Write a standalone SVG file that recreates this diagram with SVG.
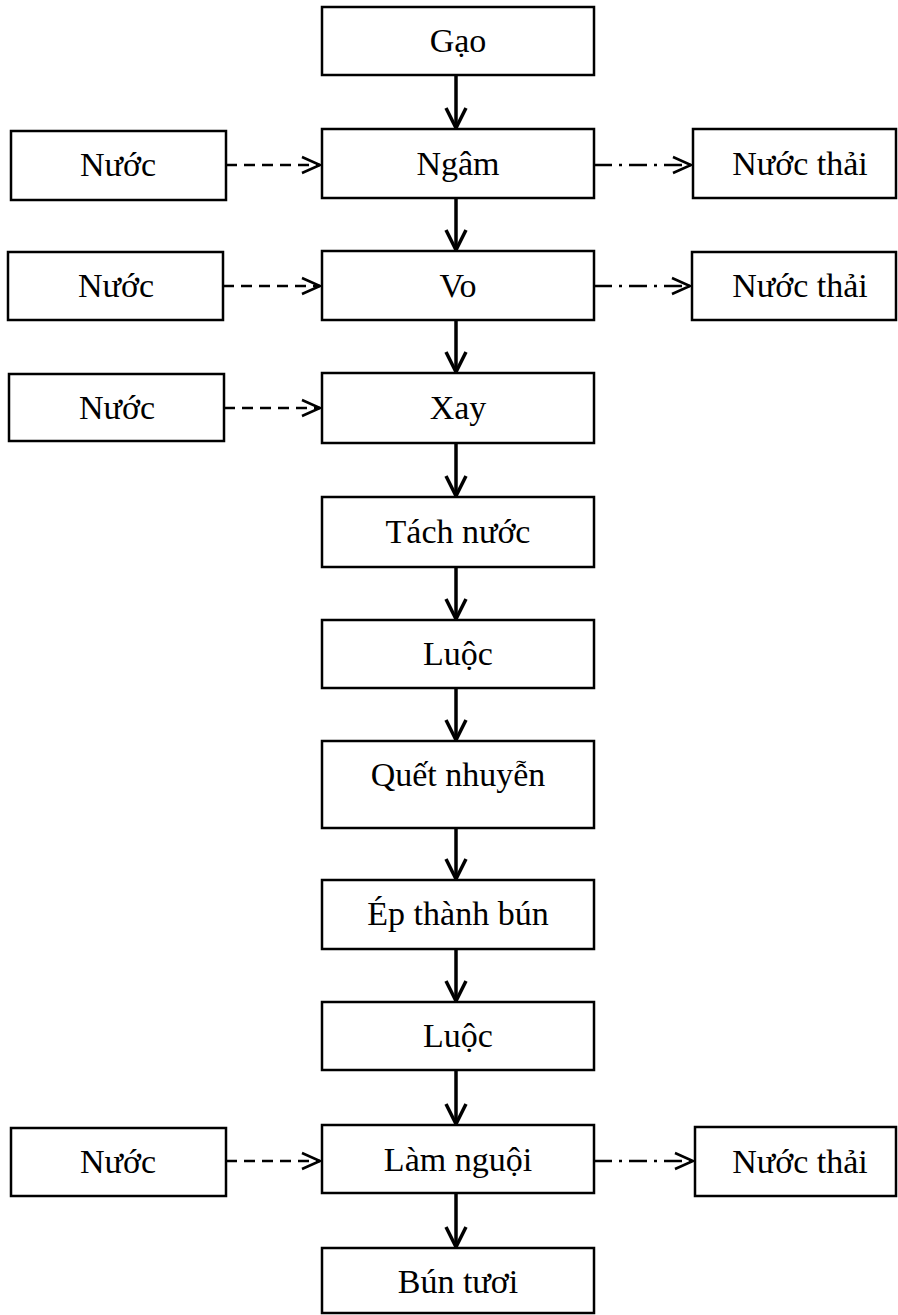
<svg xmlns="http://www.w3.org/2000/svg" width="898" height="1315" viewBox="0 0 898 1315">
<style>
.box{fill:#fff;stroke:#000;stroke-width:2.5}
.t{font-family:"Liberation Serif","Times New Roman",serif;font-size:34px;fill:#000;text-anchor:middle}
.main{stroke:#000;stroke-width:3.5;fill:none}
.dash{stroke:#000;stroke-width:2.5;fill:none;stroke-dasharray:11 7}
.dd{stroke:#000;stroke-width:2.5;fill:none;stroke-dasharray:18 7 3 7}
</style>
<defs>
<marker id="ah" markerUnits="userSpaceOnUse" markerWidth="24" markerHeight="24" viewBox="-22 -12 24 24" refX="0" refY="0" orient="auto">
<path d="M-20,-10 L0,0 L-20,10" fill="none" stroke="#000" stroke-width="3.5"/>
</marker>
<marker id="ah2" markerUnits="userSpaceOnUse" markerWidth="24" markerHeight="24" viewBox="-22 -12 24 24" refX="0" refY="0" orient="auto">
<path d="M-18,-8 L0,0 L-18,8" fill="none" stroke="#000" stroke-width="2.5"/>
</marker>
</defs>
<g id="connectors">
<line class="main" x1="456" y1="75" x2="456" y2="128" marker-end="url(#ah)"/>
<line class="main" x1="456" y1="198" x2="456" y2="250" marker-end="url(#ah)"/>
<line class="main" x1="456" y1="320" x2="456" y2="372" marker-end="url(#ah)"/>
<line class="main" x1="456" y1="443" x2="456" y2="496" marker-end="url(#ah)"/>
<line class="main" x1="456" y1="567" x2="456" y2="619" marker-end="url(#ah)"/>
<line class="main" x1="456" y1="688" x2="456" y2="740" marker-end="url(#ah)"/>
<line class="main" x1="456" y1="828" x2="456" y2="879" marker-end="url(#ah)"/>
<line class="main" x1="456" y1="949" x2="456" y2="1001" marker-end="url(#ah)"/>
<line class="main" x1="456" y1="1070" x2="456" y2="1124" marker-end="url(#ah)"/>
<line class="main" x1="456" y1="1193" x2="456" y2="1247" marker-end="url(#ah)"/>
<line class="dash" x1="226" y1="165" x2="320" y2="165" marker-end="url(#ah2)"/>
<line class="dash" x1="223" y1="286" x2="320" y2="286" marker-end="url(#ah2)"/>
<line class="dash" x1="224" y1="408" x2="320" y2="408" marker-end="url(#ah2)"/>
<line class="dash" x1="226" y1="1161" x2="320" y2="1161" marker-end="url(#ah2)"/>
<line class="dd" x1="594" y1="165" x2="691" y2="165" marker-end="url(#ah2)"/>
<line class="dd" x1="594" y1="286" x2="690" y2="286" marker-end="url(#ah2)"/>
<line class="dd" x1="594" y1="1161" x2="693" y2="1161" marker-end="url(#ah2)"/>
</g>
<g id="gao"><rect class="box" x="322" y="7" width="272" height="68"/><text class="t" x="458" y="52">Gạo</text></g>
<g id="ngam"><rect class="box" x="322" y="129" width="272" height="69"/><text class="t" x="458" y="175">Ngâm</text></g>
<g id="nuoc1"><rect class="box" x="11" y="131" width="215" height="69"/><text class="t" x="118" y="176">Nước</text></g>
<g id="nuocthai1"><rect class="box" x="693" y="129" width="203" height="69"/><text class="t" x="800" y="175">Nước thải</text></g>
<g id="vo"><rect class="box" x="322" y="251" width="272" height="69"/><text class="t" x="458" y="297">Vo</text></g>
<g id="nuoc2"><rect class="box" x="8" y="252" width="215" height="68"/><text class="t" x="116" y="297">Nước</text></g>
<g id="nuocthai2"><rect class="box" x="692" y="252" width="204" height="68"/><text class="t" x="800" y="297">Nước thải</text></g>
<g id="xay"><rect class="box" x="322" y="373" width="272" height="70"/><text class="t" x="458" y="419">Xay</text></g>
<g id="nuoc3"><rect class="box" x="9" y="374" width="215" height="67"/><text class="t" x="117" y="419">Nước</text></g>
<g id="tachnuoc"><rect class="box" x="322" y="497" width="272" height="70"/><text class="t" x="458" y="543">Tách nước</text></g>
<g id="luoc1"><rect class="box" x="322" y="620" width="272" height="68"/><text class="t" x="458" y="665">Luộc</text></g>
<g id="quetnhuyen"><rect class="box" x="322" y="741" width="272" height="87"/><text class="t" x="458" y="786">Quết nhuyễn</text></g>
<g id="epthanhbun"><rect class="box" x="322" y="880" width="272" height="69"/><text class="t" x="458" y="925">Ép thành bún</text></g>
<g id="luoc2"><rect class="box" x="322" y="1002" width="272" height="68"/><text class="t" x="458" y="1047">Luộc</text></g>
<g id="lamnguoi"><rect class="box" x="322" y="1125" width="272" height="68"/><text class="t" x="458" y="1171">Làm nguội</text></g>
<g id="nuoc4"><rect class="box" x="11" y="1128" width="215" height="68"/><text class="t" x="118" y="1173">Nước</text></g>
<g id="nuocthai4"><rect class="box" x="695" y="1127" width="201" height="69"/><text class="t" x="800" y="1173">Nước thải</text></g>
<g id="buntuoi"><rect class="box" x="322" y="1248" width="272" height="65"/><text class="t" x="458" y="1293">Bún tươi</text></g>
</svg>
